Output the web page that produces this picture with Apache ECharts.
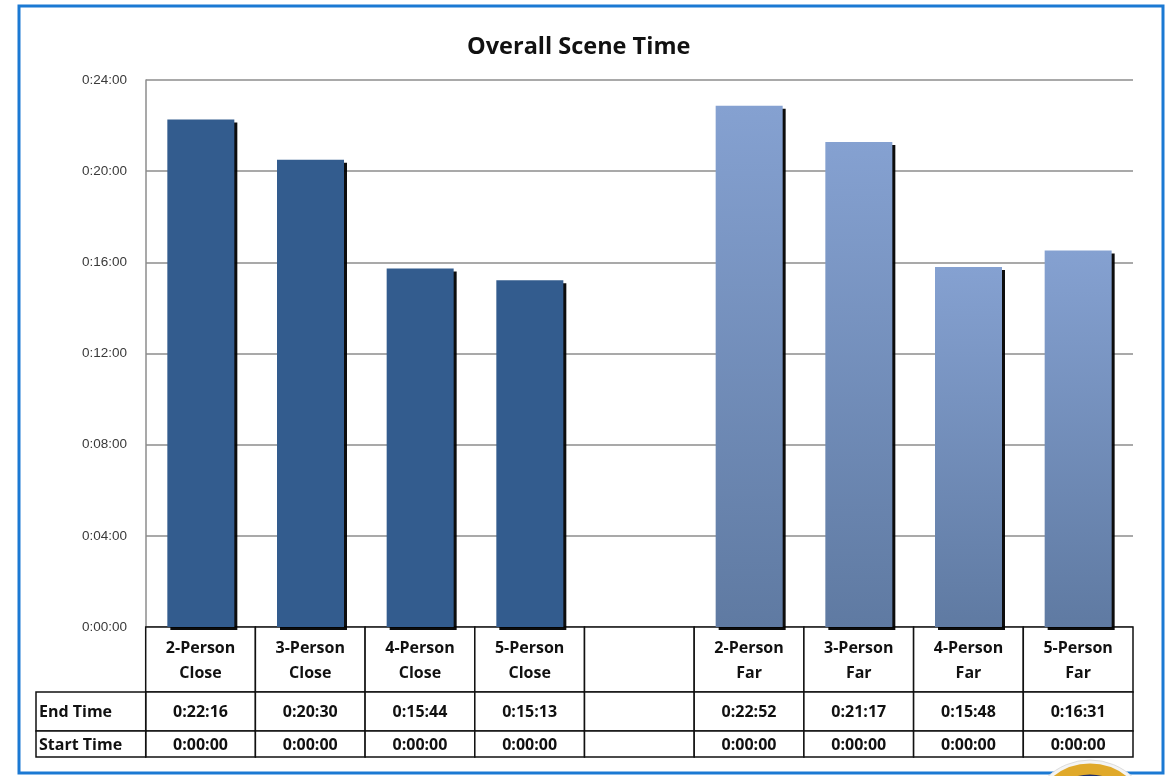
<!DOCTYPE html>
<html>
<head>
<meta charset="utf-8">
<title>Overall Scene Time</title>
<script src="https://cdn.jsdelivr.net/npm/echarts@6/dist/echarts.min.js"></script>
<style>
  html, body { margin: 0; padding: 0; background: #fff; }
  #chart { width: 1173px; height: 776px; }
</style>
</head>
<body>
<div id="chart"></div>
<script>
// categories (the empty one is the gap between the two groups)
var categories = ['2-Person\nClose', '3-Person\nClose', '4-Person\nClose', '5-Person\nClose', '',
  '2-Person\nFar', '3-Person\nFar', '4-Person\nFar', '5-Person\nFar']
var endTimes = ['0:22:16', '0:20:30', '0:15:44', '0:15:13', '', '0:22:52', '0:21:17', '0:15:48', '0:16:31']
var startTimes = ['0:00:00', '0:00:00', '0:00:00', '0:00:00', '', '0:00:00', '0:00:00', '0:00:00', '0:00:00']
var closeIdx = [0, 1, 2, 3]
var farIdx = [5, 6, 7, 8]
var rowNames = ['End Time', 'Start Time']
var yMaxSec = 24 * 60
var yStepSec = 4 * 60

function toSec(s) {
  if (!s) return null
  var p = s.split(':').map(Number)
  return p[0] * 3600 + p[1] * 60 + p[2]
}
function fmt(v) {
  var h = Math.floor(v / 3600)
  var m = Math.floor((v % 3600) / 60)
  var s = v % 60
  return h + ':' + (m < 10 ? '0' : '') + m + ':' + (s < 10 ? '0' : '') + s
}

var closeData = categories.map(function(c, i) {
  return closeIdx.indexOf(i) >= 0 ? toSec(endTimes[i]) : '-'
})
var farData = categories.map(function(c, i) {
  return farIdx.indexOf(i) >= 0 ? toSec(endTimes[i]) : '-'
})

// table cells: col 0 = row labels, cols 1..9 = categories
var cells = []
categories.forEach(function(c, i) {
  cells.push({ col: i + 1, row: 0, text: c })
  cells.push({ col: i + 1, row: 1, text: endTimes[i] })
  cells.push({ col: i + 1, row: 2, text: startTimes[i] })
})
rowNames.forEach(function(n, r) {
  cells.push({ col: 0, row: r + 1, text: n, left: true })
})
var rowEdges = [0, 65, 104, 130]

var chart = echarts.init(document.getElementById('chart'))

var barShadow = {
  shadowColor: 'rgba(0,0,0,0.95)',
  shadowBlur: 0,
  shadowOffsetX: 3,
  shadowOffsetY: 3
}

chart.setOption({
  animation: false,
  backgroundColor: '#fff',
  title: {
    text: 'Overall Scene Time',
    left: 462,
    top: 30,
    textStyle: { fontFamily: 'Open Sans', fontWeight: 'bold', fontSize: 23.5, color: '#111' }
  },
  grid: [
    { left: 146, right: 40, top: 80, bottom: 149 },
    { left: 36, right: 40, top: 627, height: 130 }
  ],
  xAxis: [
    {
      type: 'category',
      gridIndex: 0,
      data: categories,
      axisLine: { show: false },
      axisTick: { show: false },
      axisLabel: { show: false }
    },
    {
      type: 'category',
      gridIndex: 1,
      data: [''].concat(categories),
      axisLine: { show: false },
      axisTick: { show: false },
      axisLabel: { show: false }
    }
  ],
  yAxis: [
    {
      type: 'value',
      gridIndex: 0,
      min: 0,
      max: yMaxSec,
      interval: yStepSec,
      axisLine: { show: true, lineStyle: { color: '#8c8c8c', width: 1.5 } },
      axisTick: { show: false },
      splitLine: { lineStyle: { color: '#8c8c8c', width: 1.5 } },
      axisLabel: {
        margin: 19,
        formatter: fmt,
        fontFamily: 'Liberation Sans, Arial',
        fontSize: 13.5,
        color: '#3a3a3a'
      }
    },
    {
      type: 'value',
      gridIndex: 1,
      min: 0,
      max: 130,
      inverse: true,
      show: false
    }
  ],
  series: [
    {
      name: 'Close',
      type: 'bar',
      xAxisIndex: 0,
      yAxisIndex: 0,
      barWidth: 67,
      barGap: '-100%',
      itemStyle: Object.assign({ color: '#335c8e' }, barShadow),
      data: closeData
    },
    {
      name: 'Far',
      type: 'bar',
      xAxisIndex: 0,
      yAxisIndex: 0,
      barWidth: 67,
      barGap: '-100%',
      itemStyle: Object.assign({
        color: new echarts.graphic.LinearGradient(0, 0, 0, 1, [
          { offset: 0, color: '#85a1d1' },
          { offset: 1, color: '#5f7aa2' }
        ])
      }, barShadow),
      data: farData
    },
    {
      name: 'table',
      type: 'custom',
      xAxisIndex: 1,
      yAxisIndex: 1,
      silent: true,
      data: cells.map(function(c) { return [c.col, c.row] }),
      renderItem: function(params, api) {
        var cell = cells[params.dataIndex]
        var w = api.size([1, 0])[0]
        var cx = api.coord([cell.col, 0])[0]
        var y0 = api.coord([cell.col, rowEdges[cell.row]])[1]
        var y1 = api.coord([cell.col, rowEdges[cell.row + 1]])[1]
        var x0 = cx - w / 2
        return {
          type: 'group',
          children: [
            {
              type: 'rect',
              shape: { x: x0, y: y0, width: w, height: y1 - y0 },
              style: { fill: '#fff', stroke: '#111', lineWidth: 1.5 }
            },
            {
              type: 'text',
              style: {
                text: cell.text,
                x: cell.left ? x0 + 3 : cx,
                y: (y0 + y1) / 2 + 1,
                align: cell.left ? 'left' : 'center',
                verticalAlign: 'middle',
                lineHeight: 25,
                font: 'bold 16px "Open Sans"',
                fill: '#111'
              }
            }
          ]
        }
      }
    }
  ],
  graphic: [
    {
      type: 'rect',
      shape: { x: 19, y: 6, width: 1144, height: 767 },
      style: { fill: 'none', stroke: '#1b79d3', lineWidth: 3 },
      z: 10
    },
    {
      type: 'circle',
      shape: { cx: 1090, cy: 822, r: 62 },
      style: { fill: '#f4f4f4', stroke: '#dcdcdc', lineWidth: 1 },
      z: 11
    },
    {
      type: 'circle',
      shape: { cx: 1090, cy: 822, r: 53 },
      style: { fill: '#1f2d6e', stroke: '#e0a92a', lineWidth: 11 },
      z: 12
    }
  ]
})
</script>
</body>
</html>
